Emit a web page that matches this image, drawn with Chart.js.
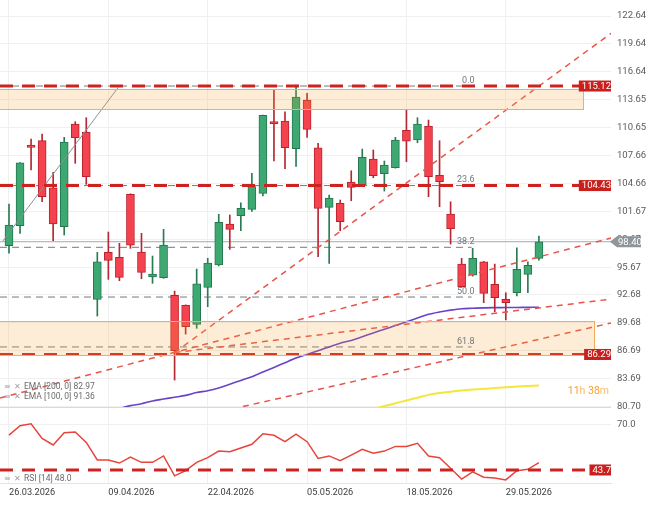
<!DOCTYPE html>
<html>
<head>
<meta charset="utf-8">
<script src="https://cdn.jsdelivr.net/npm/chart.js@4.4.1/dist/chart.umd.min.js"></script>
<style>
  html, body { margin: 0; padding: 0; background: #fff; }
  #wrap { position: relative; width: 656px; height: 507px; overflow: hidden; }
  #priceChart { position: absolute; left: 0; top: 0; }
  #rsiChart { position: absolute; left: 0; top: 407px; }
</style>
</head>
<body>
<div id="wrap">
  <canvas id="priceChart" width="656" height="415"></canvas>
  <canvas id="rsiChart" width="656" height="100"></canvas>
</div>
<script>
// trading days shown on the chart
const dates = ['26.03.2026', '27.03.2026', '30.03.2026', '31.03.2026', '01.04.2026', '02.04.2026',
  '06.04.2026', '07.04.2026', '08.04.2026', '09.04.2026', '10.04.2026', '13.04.2026', '14.04.2026',
  '15.04.2026', '16.04.2026', '17.04.2026', '20.04.2026', '21.04.2026', '22.04.2026', '23.04.2026',
  '24.04.2026', '27.04.2026', '28.04.2026', '29.04.2026', '30.04.2026', '01.05.2026', '04.05.2026',
  '05.05.2026', '06.05.2026', '07.05.2026', '08.05.2026', '11.05.2026', '12.05.2026', '13.05.2026',
  '14.05.2026', '15.05.2026', '18.05.2026', '19.05.2026', '20.05.2026', '21.05.2026', '22.05.2026',
  '25.05.2026', '26.05.2026', '27.05.2026', '28.05.2026', '29.05.2026', '01.06.2026', '02.06.2026',
  '03.06.2026'];
const xTickDates = ['26.03.2026', '09.04.2026', '22.04.2026', '05.05.2026', '18.05.2026', '29.05.2026'];

const openP = [97.97, 100.12, 108.78, 109.25, 104.20, 100.01, 111.04, 110.18, 92.21, 97.26,
  96.72, 103.49, 97.29, 94.61, 94.53, 92.64, 91.57, 89.53, 93.50, 95.90,
  100.30, 101.19, 101.88, 103.60, 111.29, 111.36, 108.39, 113.62, 108.49, 102.09,
  102.52, 104.81, 104.49, 107.28, 105.70, 106.35, 110.36, 109.32, 110.82, 105.53,
  101.37, 96.00, 94.82, 96.25, 93.82, 92.21, 92.92, 94.90, 96.62];
const highP = [102.45, 106.90, 109.43, 109.96, 105.85, 109.61, 111.29, 111.72, 97.26, 99.44,
  98.23, 103.55, 99.30, 96.86, 99.73, 93.10, 91.62, 95.47, 96.62, 101.34,
  101.27, 102.59, 105.74, 112.00, 114.69, 112.36, 115.23, 114.34, 108.97, 103.41,
  102.88, 106.02, 108.35, 108.25, 107.07, 109.61, 112.54, 111.72, 111.47, 109.25,
  102.69, 96.62, 97.69, 96.30, 96.00, 92.92, 97.75, 96.25, 99.01];
const lowP = [97.18, 99.30, 106.10, 102.70, 98.50, 99.12, 106.82, 104.56, 90.42, 94.36,
  94.21, 97.69, 94.42, 93.93, 94.47, 83.54, 88.48, 89.10, 91.42, 95.80,
  97.58, 99.58, 101.66, 103.31, 107.07, 106.24, 106.50, 109.61, 96.79, 96.08,
  99.58, 102.80, 104.38, 105.27, 103.84, 106.30, 106.99, 109.03, 103.23, 102.16,
  98.15, 93.50, 94.70, 91.85, 90.88, 90.00, 92.57, 92.92, 96.43];
const closeP = [100.19, 106.88, 108.54, 103.23, 100.30, 109.11, 109.57, 105.38, 96.25, 96.40,
  94.57, 98.04, 95.11, 94.93, 98.04, 86.69, 89.27, 93.89, 96.11, 100.48,
  99.73, 101.99, 104.31, 111.97, 111.07, 108.49, 113.94, 110.47, 101.99, 103.09,
  100.55, 104.24, 107.46, 105.49, 106.64, 109.32, 109.21, 111.04, 105.38, 104.84,
  99.79, 93.56, 96.62, 92.86, 92.38, 91.85, 95.43, 95.86, 98.40];

const ema100 = [78.4, 78.6, 78.8, 79.0, 79.2, 79.4, 79.6, 79.8, 80.0, 80.2,
  80.5, 80.8, 81.0, 81.3, 81.5, 81.7, 81.9, 82.2, 82.4, 82.7,
  83.1, 83.5, 83.9, 84.4, 84.9, 85.4, 85.9, 86.3, 86.7, 87.1,
  87.5, 87.8, 88.2, 88.6, 89.0, 89.4, 89.8, 90.2, 90.6, 90.85,
  91.05, 91.2, 91.25, 91.3, 91.32, 91.33, 91.34, 91.35, 91.36];
const ema200 = [76.0, 76.1, 76.2, 76.3, 76.4, 76.5, 76.6, 76.7, 76.8, 76.9,
  77.0, 77.1, 77.2, 77.3, 77.4, 77.5, 77.6, 77.7, 77.8, 77.9,
  78.0, 78.15, 78.3, 78.45, 78.6, 78.75, 78.9, 79.05, 79.2, 79.4,
  79.6, 79.85, 80.15, 80.45, 80.75, 81.05, 81.35, 81.65, 81.95, 82.15,
  82.3, 82.42, 82.52, 82.6, 82.7, 82.77, 82.84, 82.9, 82.97];
const rsi = [63.8, 69.2, 70.3, 61.9, 58.1, 65.2, 65.6, 59.6, 49.5, 49.5,
  47.7, 51.2, 48.1, 48.1, 51.8, 40.3, 43.3, 48.1, 50.8, 54.6,
  54.2, 56.4, 58.5, 64.6, 63.7, 60.0, 64.4, 60.0, 50.4, 51.8,
  49.1, 52.3, 55.6, 53.3, 54.6, 57.3, 57.3, 59.1, 51.8, 50.8,
  44.7, 38.5, 42.6, 39.5, 39.1, 38.0, 43.3, 44.1, 48.0];

const priceTicks = [80.70, 83.69, 86.69, 89.68, 92.68, 95.67, 98.67, 101.67, 104.66,
  107.66, 110.65, 113.65, 116.64, 119.64, 122.64];
const rsiTicks = [70, 80];

const levels = [115.12, 104.43, 86.29];
const rsiLevel = 43.7;
const lastPrice = 98.40;
const fibLevels = [0.0, 23.6, 38.2, 50.0, 61.8];
const fibPrices = [115.12, 104.43, 97.80, 92.46, 87.10];
const fibEnd = 41.9;

// zones: index range and price range
const zones = [
  { from: -1, to: 52.0, top: 114.77, bottom: 112.62 },
  { from: -1, to: 53.0, top: 89.85, bottom: 86.25 }
];
// trend lines: [x1, y1, x2, y2] in index / price
const trendLines = [
  [-0.815, 81.61, 54.53, 98.80],
  [15, 86.5, 54.53, 92.24],
  [17.3, 79.65, 54.53, 89.67],
  [15, 86.5, 54.53, 120.78]
];
const fibLine = [-0.57, 98.45, 9.9, 114.98];

const xMin = -0.815, xMax = 54.53;

Chart.defaults.font.family = 'Roboto, "Liberation Sans", sans-serif';
Chart.defaults.animation = false;

const upFill = '#3ea873', upLine = '#25784e', downFill = '#f5424f', downLine = '#b9222d';
const isUp = closeP.map((c, i) => c >= openP[i]);
const tickIdx = xTickDates.map(d => dates.indexOf(d));

function lineSet(pts, color, width, dash, order, tension) {
  return {
    type: 'line', data: pts, borderColor: color, borderWidth: width,
    borderDash: dash || [], pointRadius: 0, fill: false, order: order,
    clip: 0, tension: tension || 0
  };
}

function fixWidth(w) {
  return (scale) => { scale.width = w; scale.paddingTop = 0; scale.paddingBottom = 0; };
}

function legendRow(ctx, x, y, text) {
  ctx.fillStyle = '#a0a0a0';
  ctx.font = '8px "DejaVu Sans"';
  ctx.textAlign = 'left';
  ctx.textBaseline = 'middle';
  ctx.fillText('\u2261', x, y);
  ctx.fillText('\u2715', x + 10, y);
  ctx.fillStyle = '#6a6a6a';
  ctx.font = '8.5px Roboto';
  ctx.fillText(text, x + 20, y);
}

function redTag(ctx, area, py, text) {
  ctx.font = '9.5px Roboto';
  const w = ctx.measureText(text).width + 6;
  const bx = area.right - w + 3;
  ctx.fillStyle = '#c9201d';
  ctx.fillRect(bx, py - 5.5, w, 11);
  ctx.fillStyle = '#ffffff';
  ctx.textAlign = 'left';
  ctx.textBaseline = 'middle';
  ctx.fillText(text, bx + 3, py + 0.5);
}

const priceOverlay = {
  id: 'priceOverlay',
  afterDatasetsDraw(chart) {
    const { ctx, chartArea: a, scales: { x, y } } = chart;
    ctx.save();
    ctx.beginPath();
    ctx.rect(a.left, a.top, a.right - a.left, a.bottom - a.top);
    ctx.clip();

    zones.forEach(z => {
      const x1 = x.getPixelForValue(z.from), x2 = Math.round(x.getPixelForValue(z.to));
      const y1 = Math.round(y.getPixelForValue(z.top)), y2 = Math.round(y.getPixelForValue(z.bottom));
      ctx.fillStyle = 'rgba(245, 160, 50, 0.2)';
      ctx.fillRect(x1, y1, x2 - x1, y2 - y1);
      ctx.strokeStyle = '#f4ac58';
      ctx.lineWidth = 1;
      ctx.strokeRect(x1 + 0.5, y1 + 0.5, x2 - x1, y2 - y1);
    });

    // fibonacci labels
    ctx.font = '9px Roboto';
    ctx.fillStyle = '#6e787f';
    ctx.textAlign = 'right';
    ctx.textBaseline = 'bottom';
    fibLevels.forEach((lv, k) => {
      ctx.fillText(lv.toFixed(1), x.getPixelForValue(fibEnd) + 3, y.getPixelForValue(fibPrices[k]) - 1);
    });

    levels.forEach(lv => redTag(ctx, a, y.getPixelForValue(lv), lv.toFixed(2)));

    legendRow(ctx, a.left + 4, a.bottom - 20, 'EMA [200, 0] ' + ema200[ema200.length - 1].toFixed(2));
    legendRow(ctx, a.left + 4, a.bottom - 10, 'EMA [100, 0] ' + ema100[ema100.length - 1].toFixed(2));

    // countdown text
    ctx.font = '10.5px Roboto';
    ctx.textBaseline = 'middle';
    ctx.textAlign = 'left';
    const parts = [['11', '#f6a12e'], ['h ', '#f8bd6c'], ['38', '#f6a12e'], ['m', '#f8bd6c']];
    let tw = 0;
    parts.forEach(p => { tw += ctx.measureText(p[0]).width; });
    let tx = a.right - 2 - tw;
    parts.forEach(p => {
      ctx.fillStyle = p[1];
      ctx.fillText(p[0], tx, a.bottom - 16);
      tx += ctx.measureText(p[0]).width;
    });
    ctx.restore();
  },
  afterDraw(chart) {
    const { ctx, chartArea: a, scales: { y } } = chart;
    const py = y.getPixelForValue(lastPrice);
    ctx.save();
    ctx.fillStyle = '#8e959b';
    ctx.beginPath();
    ctx.moveTo(a.right - 1, py);
    ctx.lineTo(a.right + 6, py - 5.5);
    ctx.lineTo(a.right + 30, py - 5.5);
    ctx.lineTo(a.right + 30, py + 5.5);
    ctx.lineTo(a.right + 6, py + 5.5);
    ctx.closePath();
    ctx.fill();
    ctx.fillStyle = '#ffffff';
    ctx.font = '9.5px Roboto';
    ctx.textAlign = 'left';
    ctx.textBaseline = 'middle';
    ctx.fillText(lastPrice.toFixed(2), a.right + 7, py + 0.5);
    ctx.restore();
  }
};

const priceDatasets = [];
levels.forEach(lv => priceDatasets.push(
  lineSet([{ x: xMin, y: lv }, { x: xMax, y: lv }], '#cd2320', 3, [13, 9], 0)));
trendLines.forEach(t => priceDatasets.push(
  lineSet([{ x: t[0], y: t[1] }, { x: t[2], y: t[3] }], '#e8544a', 1.5, [6, 5], 1)));
priceDatasets.push(lineSet([{ x: fibLine[0], y: fibLine[1] }, { x: fibLine[2], y: fibLine[3] }], '#8a8f94', 1, null, 1));
// candle bodies
priceDatasets.push({
  type: 'bar',
  data: dates.map((d, i) => ({ x: i, y: [openP[i], closeP[i]] })),
  backgroundColor: isUp.map(u => u ? upFill : downFill),
  borderColor: isUp.map(u => u ? upLine : downLine),
  borderWidth: 1, borderSkipped: false, barThickness: 8, grouped: false, order: 2, clip: 0
});
// candle wicks
priceDatasets.push({
  type: 'bar',
  data: dates.map((d, i) => ({ x: i, y: [lowP[i], highP[i]] })),
  backgroundColor: isUp.map(u => u ? '#2b7b52' : '#b52833'),
  borderWidth: 0, barThickness: 1, grouped: false, order: 3, clip: 0
});
priceDatasets.push(lineSet(ema100.map((v, i) => ({ x: i, y: v })), '#6a42c9', 1.6, null, 4, 0.3));
priceDatasets.push(lineSet(ema200.map((v, i) => ({ x: i, y: v })), '#f6e53a', 2, null, 4, 0.3));
priceDatasets.push(lineSet([{ x: xMin, y: lastPrice }, { x: xMax, y: lastPrice }], '#a3a9ae', 1, null, 5));
fibPrices.forEach(p => priceDatasets.push(
  lineSet([{ x: xMin, y: p }, { x: fibEnd, y: p }], '#6f7b84', 1, [7, 5], 6)));

new Chart(document.getElementById('priceChart'), {
  type: 'bar',
  data: { datasets: priceDatasets },
  options: {
    responsive: false,
    layout: { padding: { left: 0, right: 0, top: 0, bottom: 8 } },
    plugins: { legend: { display: false }, tooltip: { enabled: false } },
    scales: {
      x: {
        type: 'linear', min: xMin, max: xMax, offset: false,
        grid: { color: '#f0f0f0', drawTicks: false, offset: false },
        border: { display: false },
        ticks: { display: false },
        afterBuildTicks: s => { s.ticks = tickIdx.map(v => ({ value: v })); },
        afterFit: s => { s.height = 0; }
      },
      y: {
        type: 'linear', position: 'right', min: 80.65, max: 124.36,
        grid: { color: '#f0f0f0', drawTicks: false },
        border: { display: false },
        ticks: { color: '#5b5b5b', font: { size: 9.5 }, padding: 6, callback: v => v.toFixed(2) },
        afterBuildTicks: s => { s.ticks = priceTicks.map(v => ({ value: v })); },
        afterFit: fixWidth(45)
      }
    }
  },
  plugins: [priceOverlay]
});

const rsiOverlay = {
  id: 'rsiOverlay',
  afterDatasetsDraw(chart) {
    const { ctx, chartArea: a, scales: { y } } = chart;
    ctx.save();
    ctx.beginPath();
    ctx.rect(a.left, a.top, a.right - a.left, a.bottom - a.top);
    ctx.clip();
    redTag(ctx, a, y.getPixelForValue(rsiLevel), rsiLevel.toFixed(1));
    legendRow(ctx, a.left + 4, a.bottom - 4, 'RSI [14] ' + rsi[rsi.length - 1].toFixed(1));
    ctx.restore();
  }
};

new Chart(document.getElementById('rsiChart'), {
  type: 'line',
  data: {
    datasets: [
      lineSet([{ x: xMin, y: rsiLevel }, { x: xMax, y: rsiLevel }], '#cd2320', 3, [13, 9], 0),
      lineSet(rsi.map((v, i) => ({ x: i, y: v })), '#e5453d', 1.5, null, 1)
    ]
  },
  options: {
    responsive: false,
    layout: { padding: 0 },
    plugins: { legend: { display: false }, tooltip: { enabled: false } },
    scales: {
      x: {
        type: 'linear', min: xMin, max: xMax, offset: false,
        grid: { color: '#f0f0f0', drawTicks: false, offset: false },
        border: { display: true, color: '#e4e4e4' },
        ticks: {
          color: '#3c3c3c', font: { size: 9.2 }, padding: 4, align: 'start',
          maxRotation: 0, autoSkip: false, callback: v => dates[v]
        },
        afterBuildTicks: s => { s.ticks = tickIdx.map(v => ({ value: v })); },
        afterFit: s => { s.height = 24; s.paddingLeft = 0; s.paddingRight = 0; }
      },
      y: {
        type: 'linear', position: 'right', min: 36.2, max: 80,
        grid: { color: c => (c.tick && c.tick.value === 80 ? '#dadada' : '#f0f0f0'), drawTicks: false },
        border: { display: false },
        ticks: { color: '#5b5b5b', font: { size: 9.5 }, padding: 6, callback: v => (v === 80 ? '' : v.toFixed(1)) },
        afterBuildTicks: s => { s.ticks = rsiTicks.map(v => ({ value: v })); },
        afterFit: fixWidth(45)
      }
    }
  },
  plugins: [rsiOverlay]
});
</script>
</body>
</html>
